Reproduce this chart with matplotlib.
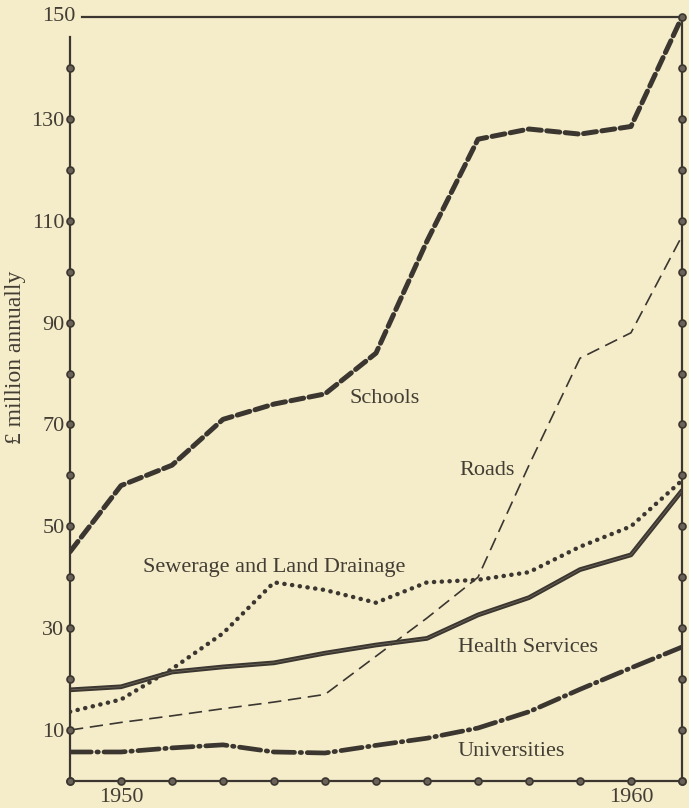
import numpy as np
import matplotlib
matplotlib.use("Agg")
import matplotlib.pyplot as plt

# ---------------------------
# Data (£ million annually)
# ---------------------------
years = np.arange(1949, 1962)
schools = [45, 58, 62, 71, 74, 76, 84, 106, 126, 128, 127, 128.5, 150]
roads = [10, 11.5, 12.8, 14.2, 15.5, 17, 24.5, 32, 40, 62, 83, 88, 107]
sewerage = [13.6, 16, 22, 29, 39, 37.5, 35, 39, 39.5, 41, 46, 50, 59]
health = [17.9, 18.5, 21.4, 22.4, 23.2, 25.1, 26.7, 28, 32.6, 36, 41.5, 44.4, 57]
universities = [5.7, 5.7, 6.5, 7.1, 5.7, 5.5, 7, 8.4, 10.4, 13.6, 18, 22.2, 26.3]

ytick_vals = [10, 30, 50, 70, 90, 110, 130]
xtick_labels = {1950: "1950", 1960: "1960"}

# ---------------------------
# Style
# ---------------------------
paper = "#f5edca"
ink = "#3b3630"
text_col = "#433d34"
plt.rcParams["font.family"] = ["Liberation Serif", "DejaVu Serif"]

fig = plt.figure(figsize=(6.89, 8.08), dpi=100, facecolor=paper)
ax = fig.add_axes([0.1016, 0.0334, 0.8882, 0.9456])
ax.set_facecolor(paper)

ax.set_xlim(1949, 1961)
ax.set_ylim(0, 150)

# series
ax.plot(years, schools, color=ink, lw=3.6, dashes=(2.6, 1.1), dash_capstyle="round")
ax.plot(years, roads, color=ink, lw=1.2, dashes=(8, 4))
ax.plot(years, sewerage, color=ink, lw=3.2, dashes=(0.05, 1.7), dash_capstyle="round")
ax.plot(years, health, color=ink, lw=3.4, solid_capstyle="round")
ax.plot(years, health, color="#8a8070", lw=0.6, alpha=0.6)
ax.plot(years, universities, color=ink, lw=3.4, dashes=(4.5, 1.2, 0.3, 1.2),
        dash_capstyle="round")

# series labels
lab = dict(color=text_col, fontsize=16, ha="center", va="center")
ax.text(1955.16, 75, "Schools", **lab)
ax.text(1957.18, 61, "Roads", **lab)
ax.text(1953.0, 42, "Sewerage and Land Drainage", **lab)
ax.text(1957.98, 26.3, "Health Services", **lab)
ax.text(1957.65, 5.7, "Universities", **lab)

# frame
for side in ["left", "right", "top", "bottom"]:
    ax.spines[side].set_color(ink)
    ax.spines[side].set_linewidth(1.6)
ax.spines["left"].set_bounds(0, 146)
ax.spines["top"].set_bounds(1949.24, 1961)

# ticks as dots on the frame
dot = dict(marker="o", ms=5, color=ink, mfc="#6a6258", mec=ink, mew=1.2,
           ls="none", clip_on=False, zorder=5)
left_dots = np.arange(0, 150, 10)
right_dots = np.arange(0, 160, 10)
ax.plot(np.full(len(left_dots), 1949), left_dots, **dot)
ax.plot(np.full(len(right_dots), 1961), right_dots, **dot)
ax.plot(years, np.zeros(len(years)), **dot)

ax.set_yticks(ytick_vals)
ax.set_yticklabels([str(v) for v in ytick_vals])
ax.set_xticks(list(xtick_labels.keys()))
ax.set_xticklabels(list(xtick_labels.values()))
ax.tick_params(length=0, labelsize=16, labelcolor=text_col, pad=4)
ax.tick_params(axis="x", pad=5)
ax.text(1949.1, 150, "150", color=text_col, fontsize=16, ha="right", va="center")

ax.set_ylabel("£ million annually", color=text_col, fontsize=17)
ax.yaxis.set_label_coords(-0.072, 0.555)

fig.savefig("out.png", dpi=100, facecolor=paper)
